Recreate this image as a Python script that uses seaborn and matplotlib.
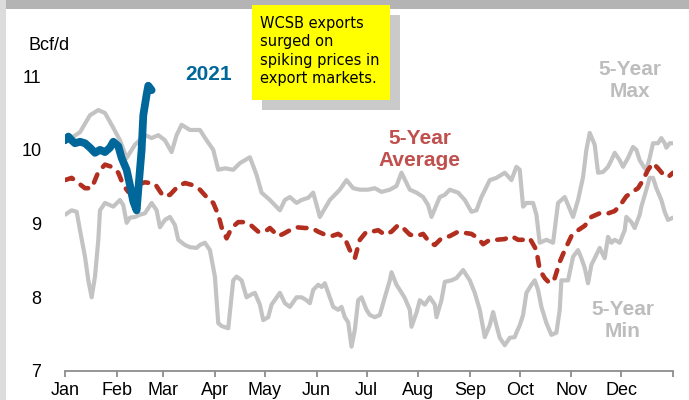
import matplotlib
matplotlib.use("Agg")
import matplotlib.pyplot as plt
from matplotlib.patches import Rectangle
import pandas as pd
import seaborn as sns

# ---- data: day of year (0 = Jan 1) and daily WCSB exports, Bcf/d ----
max_days = [0, 5, 9, 15, 20, 24, 28, 33, 37, 42, 48, 52, 56, 60, 64, 67, 70, 75, 81, 85,
            89, 92, 96, 101, 105, 111, 115, 118, 123, 129, 132, 135, 139, 142, 146, 149,
            153, 159, 165, 169, 173, 177, 182, 186, 190, 195, 199, 202, 207, 211, 215,
            218, 220, 225, 228, 231, 236, 240, 244, 247, 250, 255, 259, 264, 268, 271,
            273, 275, 277, 281, 283, 285, 289, 293, 296, 300, 305, 308, 311, 313, 315,
            318, 320, 323, 326, 328, 330, 333, 335, 338, 341, 343, 345, 348, 349, 351,
            353, 356, 358, 360, 361, 363, 365]
max_vals = [10.18, 10.18, 10.24, 10.47, 10.54, 10.50, 10.34, 10.13, 9.89, 10.07, 10.20,
            10.16, 10.20, 10.13, 9.97, 10.20, 10.34, 10.27, 10.27, 10.13, 10.00, 9.73,
            9.75, 9.73, 9.82, 9.90, 9.66, 9.42, 9.32, 9.18, 9.32, 9.36, 9.28, 9.32, 9.35,
            9.42, 9.09, 9.32, 9.46, 9.59, 9.48, 9.46, 9.46, 9.48, 9.43, 9.46, 9.51, 9.69,
            9.46, 9.42, 9.36, 9.25, 9.09, 9.36, 9.39, 9.46, 9.42, 9.32, 9.16, 9.18, 9.36,
            9.59, 9.62, 9.69, 9.59, 9.77, 9.73, 9.23, 9.28, 9.28, 9.12, 8.74, 8.78, 8.74,
            9.28, 9.36, 9.09, 9.32, 9.63, 10.00, 10.23, 10.07, 9.69, 9.70, 9.77, 9.86,
            9.96, 9.86, 9.77, 9.89, 10.04, 10.00, 9.86, 9.75, 9.73, 9.89, 10.09, 10.09,
            10.16, 10.09, 10.03, 10.09, 10.09]

min_days = [0, 4, 7, 9, 12, 14, 16, 18, 20, 21, 24, 27, 29, 33, 35, 37, 39, 42, 45, 48,
            52, 55, 57, 60, 63, 66, 68, 72, 75, 79, 81, 84, 87, 90, 92, 94, 98, 101, 103,
            106, 109, 112, 114, 117, 119, 122, 124, 129, 132, 135, 139, 142, 145, 147,
            149, 152, 154, 156, 159, 161, 164, 166, 168, 170, 172, 174, 176, 178, 181,
            183, 186, 189, 192, 195, 196, 199, 201, 204, 207, 208, 211, 213, 216, 219,
            222, 223, 226, 228, 232, 235, 239, 241, 243, 246, 249, 252, 255, 257, 259,
            261, 264, 267, 270, 271, 273, 275, 277, 280, 282, 284, 286, 289, 292, 295,
            297, 298, 302, 305, 308, 310, 312, 314, 316, 318, 321, 324, 326, 328, 330,
            333, 336, 337, 340, 342, 345, 346, 349, 351, 353, 355, 358, 360, 362, 365]
min_vals = [9.12, 9.18, 9.16, 8.91, 8.55, 8.23, 8.00, 8.28, 8.78, 9.18, 9.28, 9.25, 9.23,
            9.32, 9.25, 9.01, 9.08, 9.09, 9.12, 9.14, 9.28, 9.18, 8.95, 9.05, 9.09, 8.98,
            8.78, 8.71, 8.68, 8.67, 8.71, 8.74, 8.64, 8.28, 7.65, 7.61, 7.58, 8.23, 8.28,
            8.23, 8.00, 8.04, 8.06, 7.90, 7.69, 7.73, 7.90, 8.06, 7.92, 7.87, 8.00, 8.00,
            7.96, 7.92, 8.10, 8.17, 8.14, 8.19, 8.00, 7.87, 7.83, 7.87, 7.73, 7.66, 7.33,
            7.56, 7.96, 8.00, 7.83, 7.76, 7.73, 7.76, 8.00, 8.23, 8.34, 8.17, 8.10, 7.99,
            7.83, 7.60, 7.79, 7.96, 7.90, 8.00, 7.90, 7.73, 7.96, 8.21, 8.23, 8.26, 8.37,
            8.30, 8.23, 8.06, 7.83, 7.46, 7.62, 7.80, 7.62, 7.45, 7.35, 7.45, 7.46, 7.52,
            7.62, 7.76, 8.06, 8.17, 8.23, 8.10, 7.87, 7.65, 7.49, 7.52, 7.83, 8.23, 8.23,
            8.55, 8.64, 8.53, 8.40, 8.19, 8.44, 8.53, 8.67, 8.53, 8.82, 8.74, 8.78, 8.74,
            8.91, 9.09, 9.02, 8.94, 9.12, 9.23, 9.46, 9.62, 9.62, 9.48, 9.32, 9.16, 9.05,
            9.08]

avg_days = [0, 4, 8, 12, 16, 20, 24, 28, 32, 35, 38, 42, 48, 54, 59, 63, 68, 72, 77, 81,
            85, 89, 92, 94, 97, 100, 104, 108, 112, 116, 120, 123, 128, 131, 135, 139,
            144, 148, 152, 156, 160, 164, 168, 171, 174, 177, 181, 184, 188, 192, 196,
            200, 203, 207, 211, 215, 219, 222, 226, 231, 236, 241, 244, 248, 251, 255,
            259, 264, 268, 272, 276, 279, 283, 285, 288, 291, 294, 297, 300, 304, 308,
            312, 316, 321, 325, 330, 333, 337, 340, 344, 347, 350, 353, 356, 359, 362, 365]
avg_vals = [9.59, 9.62, 9.55, 9.48, 9.48, 9.70, 9.80, 9.77, 9.69, 9.52, 9.43, 9.52, 9.56,
            9.54, 9.37, 9.39, 9.51, 9.55, 9.52, 9.46, 9.36, 9.28, 9.12, 8.95, 8.80, 8.94,
            9.02, 9.02, 8.97, 8.89, 8.89, 8.94, 8.83, 8.86, 8.91, 8.95, 8.94, 8.94, 8.89,
            8.85, 8.83, 8.86, 8.80, 8.64, 8.53, 8.78, 8.89, 8.89, 8.91, 8.85, 8.89, 8.98,
            8.94, 8.85, 8.83, 8.86, 8.74, 8.71, 8.80, 8.83, 8.89, 8.87, 8.86, 8.80, 8.72,
            8.78, 8.78, 8.79, 8.83, 8.78, 8.78, 8.80, 8.64, 8.37, 8.26, 8.19, 8.26, 8.48,
            8.64, 8.83, 8.91, 8.97, 9.09, 9.14, 9.13, 9.17, 9.24, 9.37, 9.42, 9.48, 9.59,
            9.73, 9.82, 9.75, 9.67, 9.63, 9.69]

y2021_days = [0, 2, 4, 6, 9, 12, 15, 18, 21, 24, 27, 29, 32, 34, 37, 39, 41, 43, 44, 46,
              47, 49, 50, 51, 52]
y2021_vals = [10.13, 10.18, 10.13, 10.09, 10.11, 10.09, 10.03, 9.96, 10.00, 9.97, 10.03,
              10.11, 10.05, 9.89, 9.73, 9.52, 9.30, 9.18, 9.46, 10.00, 10.47, 10.75, 10.87,
              10.84, 10.81]

month_starts = [0, 31, 59, 90, 120, 151, 181, 212, 243, 273, 304, 334, 365]
month_labels = ["Jan", "Feb", "Mar", "Apr", "May", "Jun", "Jul", "Aug", "Sep", "Oct",
                "Nov", "Dec", ""]

note_text = "WCSB exports\nsurged on\nspiking prices in\nexport markets."

# ---- style ----
sns.set_theme(style="white")
plt.rcParams["font.family"] = ["Liberation Sans", "DejaVu Sans"]

GRAY = "#C3C3C3"
RED = "#B22E1F"
BLUE = "#00679A"
W, H = 689, 400

fig = plt.figure(figsize=(W / 100, H / 100), dpi=100)
fig.patch.set_facecolor("white")


def fx(px):
    return px / W


def fy(py):
    return 1 - py / H


# outer frame bands
fig.add_artist(Rectangle((0, 0), fx(6), 1, transform=fig.transFigure,
                         facecolor="#DCDCDC", edgecolor="none", zorder=0))
fig.add_artist(Rectangle((fx(6), fy(9)), 1, 1, transform=fig.transFigure,
                         facecolor="#B4B4B4", edgecolor="none", zorder=0))

ax = fig.add_axes([fx(65), fy(371), fx(673) - fx(65), (371 - 39.3) / H])
ax.set_facecolor("none")

df_max = pd.DataFrame({"day": max_days, "value": max_vals})
df_min = pd.DataFrame({"day": min_days, "value": min_vals})
df_avg = pd.DataFrame({"day": avg_days, "value": avg_vals})
df_21 = pd.DataFrame({"day": y2021_days, "value": y2021_vals})

sns.lineplot(data=df_max, x="day", y="value", ax=ax, color=GRAY, linewidth=3.0,
             solid_joinstyle="round", solid_capstyle="round", zorder=2)
sns.lineplot(data=df_min, x="day", y="value", ax=ax, color=GRAY, linewidth=3.0,
             solid_joinstyle="round", solid_capstyle="round", zorder=2)
sns.lineplot(data=df_avg, x="day", y="value", ax=ax, color=RED, linewidth=3.3,
             linestyle=(0, (1.9, 2.1)), dash_capstyle="round", dash_joinstyle="round",
             zorder=3)
sns.lineplot(data=df_21, x="day", y="value", ax=ax, color=BLUE, linewidth=5.6,
             solid_joinstyle="round", solid_capstyle="round", zorder=4)

ax.set_xlim(0, 365)
ax.set_ylim(7, 11.5)
ax.set_xticks(month_starts)
ax.set_xticklabels(month_labels)
ax.set_yticks([7, 8, 9, 10, 11])
ax.set_yticklabels(["7", "8", "9", "10", "11"])
ax.set_xlabel("")
ax.set_ylabel("")

for side in ("top", "right", "left"):
    ax.spines[side].set_visible(False)
ax.spines["bottom"].set_color("#8C8C8C")
ax.spines["bottom"].set_linewidth(1.3)
ax.tick_params(axis="x", direction="out", length=4, width=1.3, color="#8C8C8C",
               pad=4, labelsize=13, labelcolor="black", bottom=True)
ax.tick_params(axis="y", length=0, pad=17, labelsize=13, labelcolor="black")

# unit label
fig.text(fx(28), fy(45), "Bcf/d", fontsize=13, ha="left", va="center", color="black")

# series labels
ax.text(86, 11.02, "2021", color=BLUE, fontsize=15, fontweight="bold",
        ha="center", va="center", clip_on=False)
ax.text(339, 10.94, "5-Year\nMax", color="#BDBDBD", fontsize=15, fontweight="bold",
        ha="center", va="center", linespacing=1.2, clip_on=False)
ax.text(213, 10.01, "5-Year\nAverage", color="#C0504D", fontsize=15, fontweight="bold",
        ha="center", va="center", linespacing=1.2, clip_on=False)
ax.text(335, 7.68, "5-Year\nMin", color="#BDBDBD", fontsize=15, fontweight="bold",
        ha="center", va="center", linespacing=1.2, clip_on=False)

# callout box with drop shadow
fig.add_artist(Rectangle((fx(262), fy(110)), fx(400) - fx(262), (110 - 15) / H,
                         transform=fig.transFigure, facecolor="#CACACA",
                         edgecolor="none", zorder=5))
fig.add_artist(Rectangle((fx(252), fy(100)), fx(390) - fx(252), (100 - 5) / H,
                         transform=fig.transFigure, facecolor="#FFFF00",
                         edgecolor="none", zorder=6))
fig.text(fx(260), fy(51), note_text, fontsize=10.5, family=["DejaVu Sans"],
         ha="left", va="center", linespacing=1.3, color="black", zorder=7)

fig.savefig("out.png", dpi=100)
